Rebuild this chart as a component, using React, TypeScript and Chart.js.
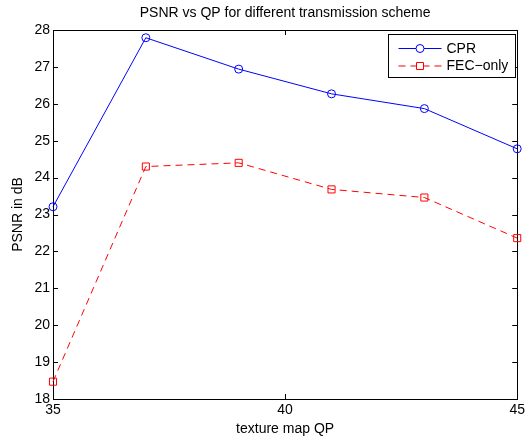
import React, { useEffect, useRef } from "react";
import { Chart, registerables } from "chart.js";

Chart.register(...registerables);

const qpValues = [35, 37, 39, 41, 43, 45];
const cprPsnr = [23.21, 27.79, 26.94, 26.27, 25.87, 24.78];
const fecPsnr = [18.47, 24.3, 24.4, 23.68, 23.46, 22.36];
const xTickValues = [35, 40, 45];
const yTickValues = [18, 19, 20, 21, 22, 23, 24, 25, 26, 27, 28];
const seriesLabels = ["CPR", "FEC\u2212only"];
const chartTitle = "PSNR vs QP for different transmission scheme";
const xTitle = "texture map QP";
const yTitle = "PSNR in dB";

const FONT = "'Liberation Sans', Arial, Helvetica, sans-serif";
const FS = 14;

const framePlugin = {
  id: "matlabFrame",
  beforeDatasetsDraw(chart: any) {
    const { ctx, chartArea, scales } = chart;
    const { left, top, right, bottom } = chartArea;
    ctx.save();
    ctx.strokeStyle = "#000";
    ctx.lineWidth = 1;
    ctx.strokeRect(Math.round(left) + 0.5, Math.round(top) + 0.5, Math.round(right - left), Math.round(bottom - top));
    const tl = 5;
    ctx.beginPath();
    xTickValues.forEach((v) => {
      const px = Math.round(scales.x.getPixelForValue(v)) + 0.5;
      ctx.moveTo(px, bottom);
      ctx.lineTo(px, bottom - tl);
      ctx.moveTo(px, top);
      ctx.lineTo(px, top + tl);
    });
    yTickValues.forEach((v) => {
      const py = Math.round(scales.y.getPixelForValue(v)) + 0.5;
      ctx.moveTo(left, py);
      ctx.lineTo(left + tl, py);
      ctx.moveTo(right, py);
      ctx.lineTo(right - tl, py);
    });
    ctx.stroke();
    ctx.restore();
  },
};

const legendPlugin = {
  id: "matlabLegend",
  afterDraw(chart: any) {
    const { ctx, chartArea } = chart;
    const bw = 127;
    const bh = 43;
    const bx = Math.round(chartArea.right - 2 - bw) + 0.5;
    const by = Math.round(chartArea.top + 4) + 0.5;
    ctx.save();
    ctx.fillStyle = "#fff";
    ctx.fillRect(bx, by, bw, bh);
    ctx.strokeStyle = "#000";
    ctx.lineWidth = 1;
    ctx.strokeRect(bx, by, bw, bh);
    const ds = chart.data.datasets;
    ds.forEach((d: any, i: number) => {
      const cy = by + 14 + i * 17.5;
      const x0 = bx + 10;
      const x1 = bx + 53;
      const mx = bx + 31.5;
      ctx.strokeStyle = d.borderColor;
      ctx.lineWidth = 1;
      ctx.setLineDash(d.borderDash || []);
      ctx.beginPath();
      ctx.moveTo(x0, cy);
      ctx.lineTo(x1, cy);
      ctx.stroke();
      ctx.setLineDash([]);
      ctx.fillStyle = "#fff";
      ctx.beginPath();
      if (d.pointStyle === "rect") {
        const s = 3.5;
        ctx.fillRect(mx - s, cy - s, 2 * s, 2 * s);
        ctx.rect(mx - s, cy - s, 2 * s, 2 * s);
      } else {
        ctx.arc(mx, cy, 4, 0, Math.PI * 2);
        ctx.fill();
      }
      ctx.stroke();
      ctx.fillStyle = "#000";
      ctx.font = `${FS}px ${FONT}`;
      ctx.textBaseline = "middle";
      ctx.textAlign = "left";
      ctx.fillText(d.label, bx + 58, cy + 0.5);
    });
    ctx.restore();
  },
};

export default function App() {
  const canvasRef = useRef<HTMLCanvasElement | null>(null);

  useEffect(() => {
    if (!canvasRef.current) return;
    const chart = new Chart(canvasRef.current, {
      type: "line",
      data: {
        datasets: [
          {
            label: seriesLabels[0],
            data: qpValues.map((x, i) => ({ x, y: cprPsnr[i] })),
            borderColor: "#0000ff",
            borderWidth: 1,
            pointStyle: "circle",
            pointRadius: 4,
            pointBorderWidth: 1,
            pointBorderColor: "#0000ff",
            pointBackgroundColor: "rgba(0,0,0,0)",
            tension: 0,
            clip: false,
          },
          {
            label: seriesLabels[1],
            data: qpValues.map((x, i) => ({ x, y: fecPsnr[i] })),
            borderColor: "#ff0000",
            borderWidth: 1,
            borderDash: [7, 5],
            pointStyle: "rect",
            pointRadius: 5,
            pointBorderWidth: 1,
            pointBorderColor: "#ff0000",
            pointBackgroundColor: "rgba(0,0,0,0)",
            tension: 0,
            clip: false,
          },
        ],
      },
      options: {
        responsive: false,
        animation: false,
        layout: { padding: { left: 0, right: 9, top: 0, bottom: 0 } },
        plugins: {
          legend: { display: false },
          tooltip: { enabled: false },
          title: {
            display: true,
            text: chartTitle,
            color: "#000",
            fullSize: false,
            font: { family: FONT, size: FS, weight: "normal" },
            padding: { top: 4.6, bottom: 8.6 },
          },
        },
        scales: {
          x: {
            type: "linear",
            min: 35,
            max: 45,
            afterBuildTicks: (s: any) => {
              s.ticks = xTickValues.map((v) => ({ value: v }));
            },
            afterFit: (s: any) => {
              s.height = 39;
            },
            grid: { display: false, drawTicks: false },
            border: { display: false },
            ticks: {
              color: "#000",
              font: { family: FONT, size: FS },
              padding: 3,
              maxRotation: 0,
            },
            title: {
              display: true,
              text: xTitle,
              color: "#000",
              font: { family: FONT, size: FS },
              padding: { top: 0, bottom: 0 },
            },
          },
          y: {
            type: "linear",
            min: 18,
            max: 28,
            afterBuildTicks: (s: any) => {
              s.ticks = yTickValues.map((v) => ({ value: v }));
            },
            afterFit: (s: any) => {
              s.width = 53;
            },
            grid: { display: false, drawTicks: false },
            border: { display: false },
            ticks: {
              color: "#000",
              font: { family: FONT, size: FS },
              padding: 3,
            },
            title: {
              display: true,
              text: yTitle,
              color: "#000",
              font: { family: FONT, size: FS },
              padding: { top: 9.6, bottom: 0 },
            },
          },
        },
      },
      plugins: [framePlugin, legendPlugin],
    } as any);
    return () => chart.destroy();
  }, []);

  return (
    <div style={{ position: "absolute", left: 0, top: 0, width: 528, height: 438, background: "#fff" }}>
      <canvas ref={canvasRef} width={528} height={438} style={{ display: "block" }} />
    </div>
  );
}
